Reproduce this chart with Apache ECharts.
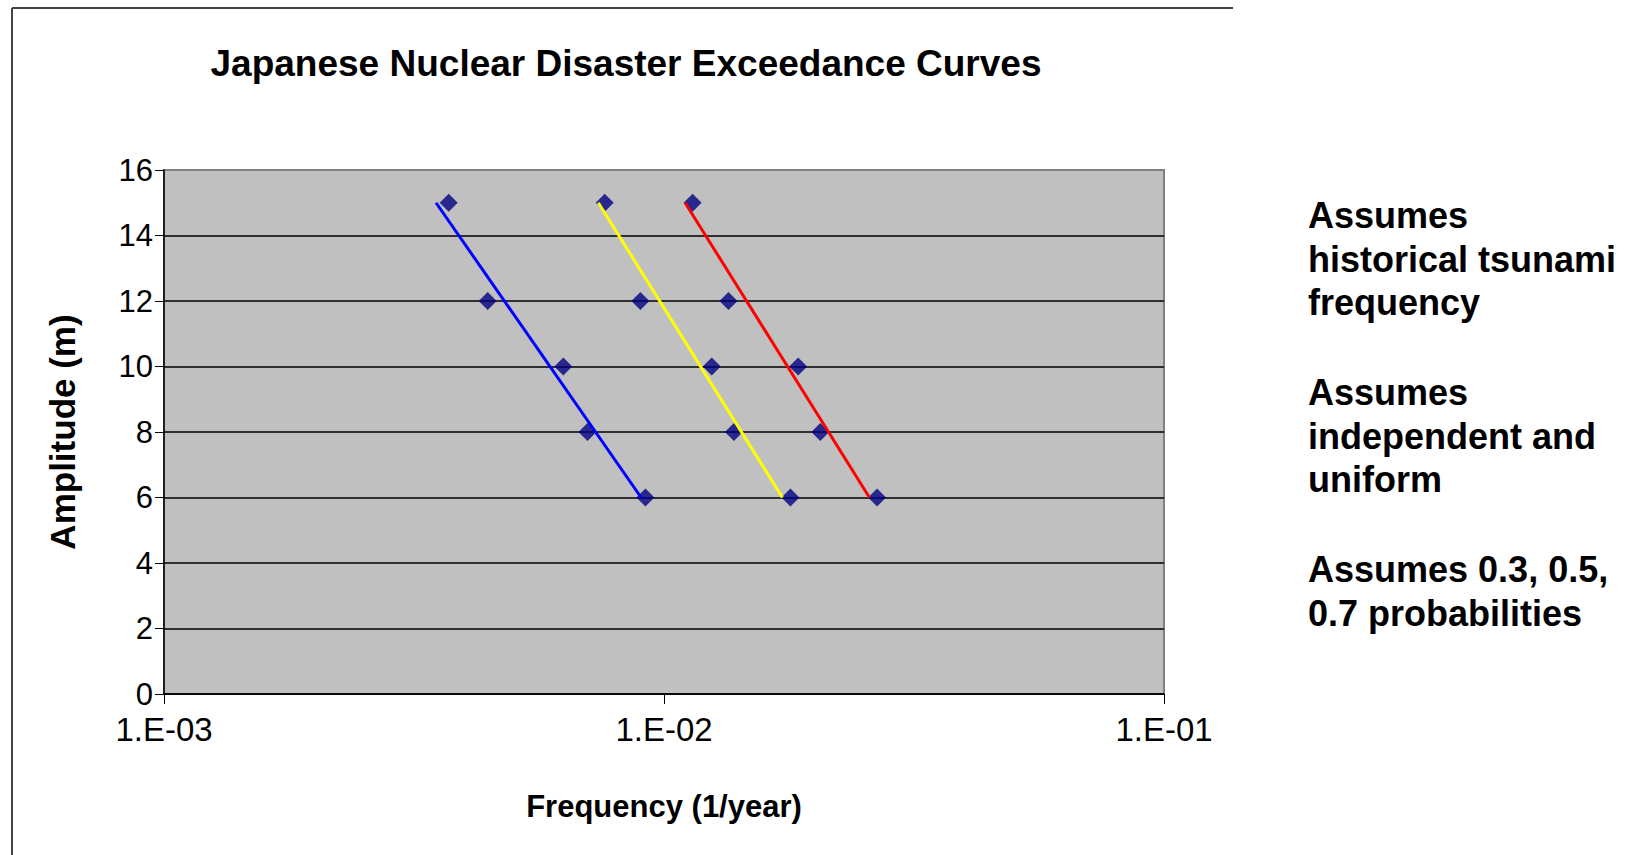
<!DOCTYPE html>
<html><head><meta charset="utf-8">
<script src="https://cdn.jsdelivr.net/npm/echarts@6/dist/echarts.min.js"></script>
<style>html,body{margin:0;padding:0;background:#fff}#c{width:1637px;height:855px}</style>
</head><body><div id="c"></div>
<script>
// Amplitude levels (m)
const amplitudes = [15, 12, 10, 8, 6];
// Exceedance frequencies (1/year) for 0.3, 0.5, 0.7 probabilities
const freqBlue = [3.71e-3, 4.44e-3, 6.29e-3, 7.03e-3, 9.18e-3];
const freqYellow = [7.61e-3, 8.97e-3, 1.246e-2, 1.380e-2, 1.790e-2];
const freqRed = [1.141e-2, 1.346e-2, 1.855e-2, 2.054e-2, 2.668e-2];
// Fitted trend lines (end points)
const fitAmplitudes = [15, 6];
const fitBlue = [3.50e-3, 9.0e-3];
const fitYellow = [7.39e-3, 1.725e-2];
const fitRed = [1.102e-2, 2.576e-2];
const yTicks = [0, 2, 4, 6, 8, 10, 12, 14, 16];
const titleText = 'Japanese Nuclear Disaster Exceedance Curves';
const xName = 'Frequency (1/year)';
const yName = 'Amplitude (m)';
const notes = [
  'Assumes\nhistorical tsunami\nfrequency',
  'Assumes\nindependent and\nuniform',
  'Assumes 0.3, 0.5,\n0.7 probabilities'
];

const FONT = '"Liberation Sans", Arial, Helvetica, sans-serif';
const pairs = (xs, ys) => ys.map((y, i) => [xs[i], y]);
const chart = echarts.init(document.getElementById('c'), null, {renderer: 'svg'});

const scatter = (data) => ({
  type: 'scatter', data, symbol: 'diamond', symbolSize: 18, z: 3,
  itemStyle: {color: '#000080'}
});
const fit = (data, color) => ({
  type: 'line', data, symbol: 'none', z: 4, silent: true,
  lineStyle: {color, width: 3}
});

const splitColors = yTicks.map((t, i) => i === yTicks.length - 1 ? '#808080' : '#000000');
const noteTops = [194, 371, 548];

chart.setOption({
  animation: false,
  backgroundColor: '#ffffff',
  title: {
    text: titleText, left: 626, top: 45, textAlign: 'center', padding: 0,
    textStyle: {fontFamily: FONT, fontSize: 37, fontWeight: 'bold', color: '#000'}
  },
  grid: {
    left: 164, top: 170, width: 1000, height: 524,
    show: true, backgroundColor: '#C0C0C0', borderColor: '#808080', borderWidth: 2
  },
  xAxis: {
    type: 'log', logBase: 10, min: 0.001, max: 0.1,
    name: xName, nameLocation: 'middle', nameGap: 97,
    nameTextStyle: {fontFamily: FONT, fontSize: 31, fontWeight: 'bold', color: '#000'},
    axisLine: {show: true, lineStyle: {color: '#000', width: 1.5}},
    axisTick: {show: true, inside: false, length: 10, lineStyle: {color: '#000'}},
    axisLabel: {
      margin: 19, fontFamily: FONT, fontSize: 33, color: '#000',
      formatter: v => {
        const e = Math.round(Math.log10(v));
        return '1.E' + (e < 0 ? '-' : '+') + String(Math.abs(e)).padStart(2, '0');
      }
    },
    splitLine: {show: false},
    minorTick: {show: false}
  },
  yAxis: {
    type: 'value', min: yTicks[0], max: yTicks[yTicks.length - 1], interval: 2,
    name: yName, nameLocation: 'middle', nameGap: 84, nameRotate: 90,
    nameTextStyle: {fontFamily: FONT, fontSize: 35, fontWeight: 'bold', color: '#000'},
    axisLine: {show: true, lineStyle: {color: '#000', width: 1.5}},
    axisTick: {show: true, inside: false, length: 9, lineStyle: {color: '#000'}},
    axisLabel: {margin: 11, fontFamily: FONT, fontSize: 31, color: '#000'},
    splitLine: {show: true, lineStyle: {color: splitColors, width: 1.5}}
  },
  series: [
    scatter(pairs(freqBlue, amplitudes)),
    scatter(pairs(freqYellow, amplitudes)),
    scatter(pairs(freqRed, amplitudes)),
    fit(pairs(fitBlue, fitAmplitudes), '#0000FF'),
    fit(pairs(fitYellow, fitAmplitudes), '#FFFF00'),
    fit(pairs(fitRed, fitAmplitudes), '#FF0000')
  ],
  graphic: [
    {type: 'line', shape: {x1: 12, y1: 8, x2: 1233, y2: 8}, style: {stroke: '#444', lineWidth: 2}, silent: true},
    {type: 'line', shape: {x1: 12, y1: 8, x2: 12, y2: 855}, style: {stroke: '#444', lineWidth: 2}, silent: true},
    ...notes.map((t, i) => ({
      type: 'text', left: 1308, top: noteTops[i], silent: true,
      style: {text: t, fontFamily: FONT, fontSize: 36, fontWeight: 'bold', fill: '#000', lineHeight: 43.5}
    }))
  ]
});
</script></body></html>
